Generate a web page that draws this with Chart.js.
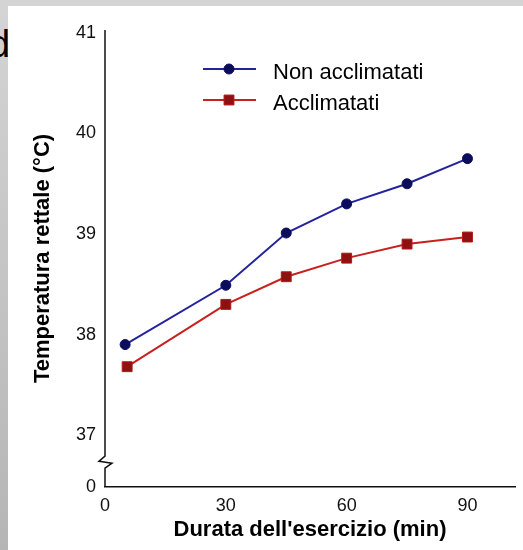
<!DOCTYPE html>
<html>
<head>
<meta charset="utf-8">
<script src="https://cdn.jsdelivr.net/npm/chart.js@4/dist/chart.umd.min.js"></script>
<style>
  html, body { margin: 0; padding: 0; }
  body {
    width: 523px; height: 550px; overflow: hidden; position: relative;
    background: linear-gradient(to bottom, #d4d4d4, #b5b5b5);
  }
  #top { position: absolute; left: 0; top: 0; width: 523px; height: 6px; background: #d4d4d4; }
  #sheet { position: absolute; left: 8px; top: 6px; right: 0; bottom: 0; background: #fff; }
  #frag {
    position: absolute; left: -11px; top: 22px;
    font: 38px "Liberation Sans", Arial, sans-serif; color: #000; line-height: 44px;
  }
  canvas { position: absolute; left: 0; top: 0; }
</style>
</head>
<body>
<div id="top"></div>
<div id="sheet"></div>
<div id="frag">d</div>
<canvas id="c" width="523" height="550"></canvas>
<script>
// --- data ---
const minutesNon = [5, 30, 45, 60, 75, 90];
const tempNon    = [37.90, 38.49, 39.01, 39.30, 39.50, 39.75];
const minutesAcc = [5.5, 30, 45, 60, 75, 90];
const tempAcc    = [37.68, 38.30, 38.575, 38.76, 38.90, 38.97];
const xTicks = [0, 30, 60, 90];
const yTicks = [37, 38, 39, 40, 41];
const yFloor = 36.483;   // bottom of the broken axis, labelled "0"
const yBreak = 36.72;    // where the axis break is drawn

const FONT = '"Liberation Sans", Arial, sans-serif';

function pts(xs, ys) { return xs.map((x, i) => ({ x, y: ys[i] })); }

// legend + broken y axis
const extras = {
  id: "extras",
  afterDraw(chart) {
    const c = chart.ctx;
    const area = chart.chartArea;
    const y = chart.scales.y;

    // y axis with a break
    const x0 = area.left;
    const yb = y.getPixelForValue(yBreak);
    c.save();
    c.strokeStyle = "#111";
    c.lineWidth = 1.5;
    c.beginPath();
    c.moveTo(x0, area.top);
    c.lineTo(x0, yb - 7);
    c.lineTo(x0 - 6, yb - 2);
    c.lineTo(x0 + 7, yb);
    c.lineTo(x0, yb + 5);
    c.lineTo(x0, area.bottom);
    c.stroke();
    c.restore();

    // legend
    const rows = [69, 100];
    chart.data.datasets.forEach((ds, i) => {
      const ly = rows[i];
      c.save();
      c.strokeStyle = ds.borderColor;
      c.lineWidth = 2;
      c.beginPath();
      c.moveTo(203, ly);
      c.lineTo(256, ly);
      c.stroke();
      c.fillStyle = ds.pointBackgroundColor;
      c.strokeStyle = ds.pointBorderColor;
      c.lineWidth = 1;
      c.beginPath();
      if (ds.pointStyle === "rect") {
        const s = ds.pointRadius * Math.SQRT1_2;
        c.rect(229 - s, ly - s, 2 * s, 2 * s);
      } else {
        c.arc(229, ly, ds.pointRadius, 0, Math.PI * 2);
      }
      c.fill();
      c.stroke();
      c.fillStyle = "#000";
      c.font = "22px " + FONT;
      c.textBaseline = "alphabetic";
      c.fillText(ds.label, 273, ly + 10);
      c.restore();
    });
  }
};

new Chart(document.getElementById("c"), {
  type: "line",
  data: {
    datasets: [
      {
        label: "Non acclimatati",
        data: pts(minutesNon, tempNon),
        borderColor: "#23239b",
        borderWidth: 2,
        pointStyle: "circle",
        pointRadius: 5,
        pointBackgroundColor: "#0c0c5c",
        pointBorderColor: "#0c0c5c",
        pointBorderWidth: 1,
        tension: 0
      },
      {
        label: "Acclimatati",
        data: pts(minutesAcc, tempAcc),
        borderColor: "#c8201e",
        borderWidth: 2,
        pointStyle: "rect",
        pointRadius: 7,
        pointBackgroundColor: "#8f1010",
        pointBorderColor: "#b51818",
        pointBorderWidth: 1,
        tension: 0
      }
    ]
  },
  options: {
    responsive: false,
    animation: false,
    layout: { padding: { left: 22, top: 30, right: 5, bottom: 4 } },
    plugins: { legend: { display: false }, tooltip: { enabled: false } },
    scales: {
      x: {
        type: "linear",
        min: 0,
        max: 101.8,
        afterBuildTicks: (s) => { s.ticks = xTicks.map((v) => ({ value: v })); },
        afterFit: (s) => { s.height = 59; },
        grid: { display: false, drawTicks: false },
        border: { display: true, color: "#111", width: 1.5 },
        ticks: { color: "#111", font: { family: FONT, size: 18 }, padding: 8, maxRotation: 0 },
        title: {
          display: true,
          text: "Durata dell'esercizio (min)",
          color: "#000",
          font: { family: FONT, size: 22, weight: "bold" },
          padding: { top: 0, bottom: 3 }
        }
      },
      y: {
        type: "linear",
        min: yFloor,
        max: 41.03,
        afterBuildTicks: (s) => {
          s.ticks = [yFloor].concat(yTicks).map((v) => ({ value: v }));
        },
        afterFit: (s) => { s.width = 83; },
        grid: { display: false, drawTicks: false },
        border: { display: false },
        ticks: {
          color: "#111",
          font: { family: FONT, size: 18 },
          padding: 9,
          callback: (v) => (v < 37 ? "0" : String(v))
        },
        title: {
          display: true,
          text: "Temperatura rettale (°C)",
          color: "#000",
          font: { family: FONT, size: 22, weight: "bold" },
          padding: { top: 8, bottom: 0 }
        }
      }
    }
  },
  plugins: [extras]
});
</script>
</body>
</html>
